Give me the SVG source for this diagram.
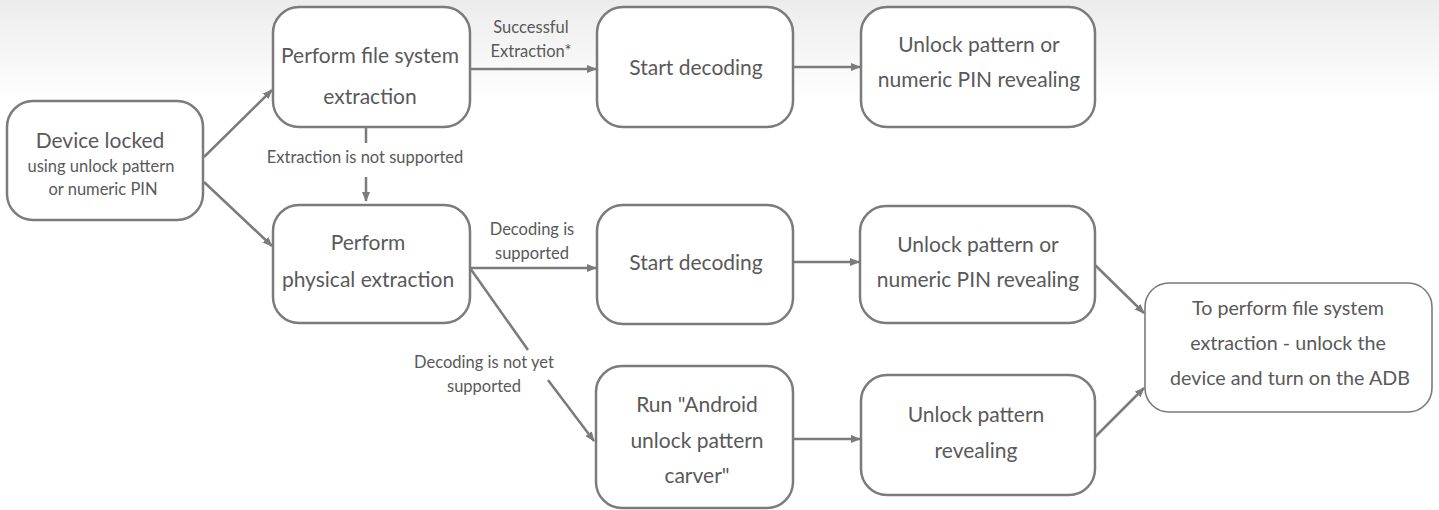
<svg xmlns="http://www.w3.org/2000/svg" width="1439" height="510" viewBox="0 0 1439 510">
<defs>
<linearGradient id="bg" x1="0" y1="0" x2="0" y2="1">
<stop offset="0" stop-color="#ececec"/>
<stop offset="1" stop-color="#ffffff"/>
</linearGradient>
<marker id="arr" viewBox="0 0 10 8" refX="9" refY="4" markerWidth="10" markerHeight="8" markerUnits="userSpaceOnUse" orient="auto">
<path d="M0,0 L10,4 L0,8 z" fill="#7b7b7b"/>
</marker>
</defs>
<style>
.box{fill:#ffffff;stroke:#7b7b7b;stroke-width:2.5}
.thin{stroke-width:1.6}
.t{font-family:Lato,"Open Sans",sans-serif;font-size:21px;fill:#595959;text-anchor:middle}
.f{font-size:19.7px}
.s{font-family:Lato,"Open Sans",sans-serif;font-size:16.5px;fill:#595959;text-anchor:middle}
.l{font-family:Lato,"Open Sans",sans-serif;font-size:16.5px;fill:#595959;text-anchor:middle}
.c{stroke:#7b7b7b;stroke-width:2.5;fill:none}
</style>
<rect x="0" y="0" width="1439" height="100" fill="url(#bg)"/>
<g id="connectors">
<line class="c" x1="204" y1="157" x2="272" y2="90" marker-end="url(#arr)"/>
<line class="c" x1="204" y1="182" x2="272" y2="246" marker-end="url(#arr)"/>
<line class="c" x1="366" y1="127" x2="366" y2="143"/>
<line class="c" x1="366" y1="177" x2="366" y2="201" marker-end="url(#arr)"/>
<line class="c" x1="470" y1="69" x2="596" y2="69" marker-end="url(#arr)"/>
<line class="c" x1="793" y1="67" x2="860" y2="67" marker-end="url(#arr)"/>
<line class="c" x1="470" y1="268" x2="596" y2="268" marker-end="url(#arr)"/>
<line class="c" x1="470" y1="268" x2="528" y2="350"/>
<line class="c" x1="548" y1="380" x2="594" y2="441" marker-end="url(#arr)"/>
<line class="c" x1="793" y1="262" x2="859" y2="262" marker-end="url(#arr)"/>
<line class="c" x1="793" y1="439" x2="860" y2="439" marker-end="url(#arr)"/>
<line class="c" x1="1095" y1="265" x2="1144" y2="313" marker-end="url(#arr)"/>
<line class="c" x1="1095" y1="437" x2="1144" y2="388" marker-end="url(#arr)"/>
<text class="l" x="531" y="33">Successful</text>
<text class="l" x="531" y="57">Extraction*</text>
<text class="l" x="365" y="163">Extraction is not supported</text>
<text class="l" x="532" y="235">Decoding is</text>
<text class="l" x="532" y="259">supported</text>
<text class="l" x="484" y="368">Decoding is not yet</text>
<text class="l" x="484" y="392">supported</text>
</g>
<g id="device">
<rect class="box" x="7" y="101" width="196" height="119" rx="26"/>
<text class="t" x="100" y="148">Device locked</text>
<text class="s" x="101" y="172">using unlock pattern</text>
<text class="s" x="103" y="195">or numeric PIN</text>
</g>
<g id="fs">
<rect class="box" x="273" y="7" width="197" height="120" rx="26"/>
<text class="t" x="370" y="63">Perform file system</text>
<text class="t" x="370" y="104">extraction</text>
</g>
<g id="physical">
<rect class="box" x="273" y="205" width="197" height="118" rx="26"/>
<text class="t" x="368" y="250">Perform</text>
<text class="t" x="368" y="287">physical extraction</text>
</g>
<g id="decode1">
<rect class="box" x="597" y="7" width="196" height="120" rx="26"/>
<text class="t" x="696" y="75">Start decoding</text>
</g>
<g id="unlock1">
<rect class="box" x="861" y="7" width="234" height="120" rx="26"/>
<text class="t" x="979" y="52">Unlock pattern or</text>
<text class="t" x="979" y="87">numeric PIN revealing</text>
</g>
<g id="decode2">
<rect class="box" x="597" y="205" width="196" height="119" rx="26"/>
<text class="t" x="696" y="270">Start decoding</text>
</g>
<g id="unlock2">
<rect class="box" x="860" y="206" width="235" height="117" rx="26"/>
<text class="t" x="978" y="252">Unlock pattern or</text>
<text class="t" x="978" y="287">numeric PIN revealing</text>
</g>
<g id="carver">
<rect class="box" x="596" y="366" width="197" height="142" rx="26"/>
<text class="t" x="697" y="412">Run "Android</text>
<text class="t" x="697" y="448">unlock pattern</text>
<text class="t" x="697" y="483">carver"</text>
</g>
<g id="unlock3">
<rect class="box" x="861" y="375" width="234" height="120" rx="26"/>
<text class="t" x="976" y="422">Unlock pattern</text>
<text class="t" x="976" y="458">revealing</text>
</g>
<g id="final">
<rect class="box thin" x="1145" y="283" width="287" height="129" rx="24"/>
<text class="t f" x="1288" y="315">To perform file system</text>
<text class="t f" x="1288" y="350">extraction - unlock the</text>
<text class="t f" x="1290" y="385">device and turn on the ADB</text>
</g>
</svg>
